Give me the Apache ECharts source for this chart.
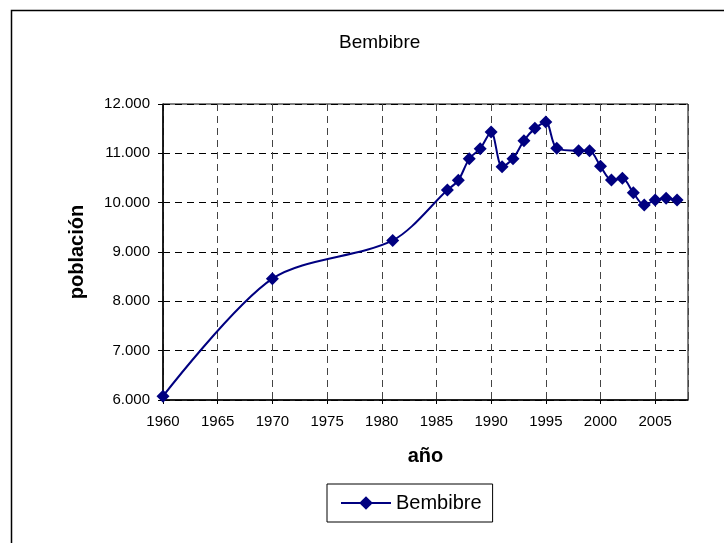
<!DOCTYPE html>
<html>
<head>
<meta charset="utf-8">
<script src="https://cdn.jsdelivr.net/npm/echarts@6/dist/echarts.min.js"></script>
<style>
  html, body { margin: 0; padding: 0; background: #fff; }
  #chart { width: 724px; height: 543px; }
</style>
</head>
<body>
<div id="chart"></div>
<script>
// datos
const years = [1960, 1970, 1981, 1986, 1987, 1988, 1989, 1990, 1991, 1992, 1993, 1994,
  1995, 1996, 1998, 1999, 2000, 2001, 2002, 2003, 2004, 2005, 2006, 2007];
const poblacion = [6077, 8460, 9235, 10256, 10452, 10891, 11094, 11432, 10729, 10891, 11256, 11506,
  11635, 11101, 11053, 11053, 10736, 10458, 10493, 10201, 9951, 10053, 10087, 10053];
const seriesName = 'Bembibre';

const font = 'Liberation Sans, Arial, sans-serif';
const chart = echarts.init(document.getElementById('chart'));

const fmtMiles = v => String(v).replace(/\B(?=(\d{3})+(?!\d))/g, '.');

chart.setOption({
  backgroundColor: '#fff',
  animation: false,
  title: {
    text: 'Bembibre',
    left: 334,
    top: 28,
    textStyle: { fontFamily: font, fontSize: 19, fontWeight: 'normal', color: '#000' }
  },
  // marco exterior
  graphic: [{
    type: 'rect',
    shape: { x: 11.5, y: 10.5, width: 730, height: 560 },
    style: { fill: 'none', stroke: '#000', lineWidth: 1.5 },
    silent: true
  }],
  grid: {
    left: 163, top: 104, right: 36, bottom: 143,
    show: true, borderColor: '#000', borderWidth: 1, backgroundColor: '#fff'
  },
  legend: {
    left: 327, top: 484,
    borderColor: '#000', borderWidth: 1,
    padding: [9, 11, 9, 13],
    itemWidth: 50, itemHeight: 17,
    textStyle: { fontFamily: font, fontSize: 20, color: '#000' },
    data: [seriesName]
  },
  xAxis: {
    type: 'value',
    min: 1960, max: 2008, interval: 5,
    name: 'año', nameLocation: 'middle', nameGap: 46,
    nameTextStyle: { fontFamily: font, fontSize: 20, fontWeight: 'bold', color: '#000' },
    axisLine: { lineStyle: { color: '#000', width: 1.5 } },
    axisTick: { length: 4, lineStyle: { color: '#000' } },
    axisLabel: {
      fontFamily: font, fontSize: 15, color: '#000', margin: 14,
      showMaxLabel: false,
      formatter: v => (v % 5 === 0 ? String(v) : '')
    },
    splitLine: { show: true, lineStyle: { color: '#444', type: [7, 5], width: 1 } }
  },
  yAxis: {
    type: 'value',
    min: 6000, max: 12000, interval: 1000,
    name: 'población', nameLocation: 'middle', nameGap: 76,
    nameTextStyle: { fontFamily: font, fontSize: 20, fontWeight: 'bold', color: '#000' },
    axisLine: { show: true, lineStyle: { color: '#000', width: 1.5 } },
    axisTick: { show: true, length: 5, lineStyle: { color: '#000' } },
    axisLabel: { fontFamily: font, fontSize: 15, color: '#000', margin: 13, formatter: fmtMiles },
    splitLine: { show: true, lineStyle: { color: '#000', type: [7, 5], width: 1 } }
  },
  series: [{
    name: seriesName,
    type: 'line',
    smooth: 0.3,
    data: years.map((y, i) => [y, poblacion[i]]),
    symbol: 'diamond',
    symbolSize: 13,
    lineStyle: { color: '#000080', width: 2 },
    itemStyle: { color: '#000080' }
  }]
});
</script>
</body>
</html>
